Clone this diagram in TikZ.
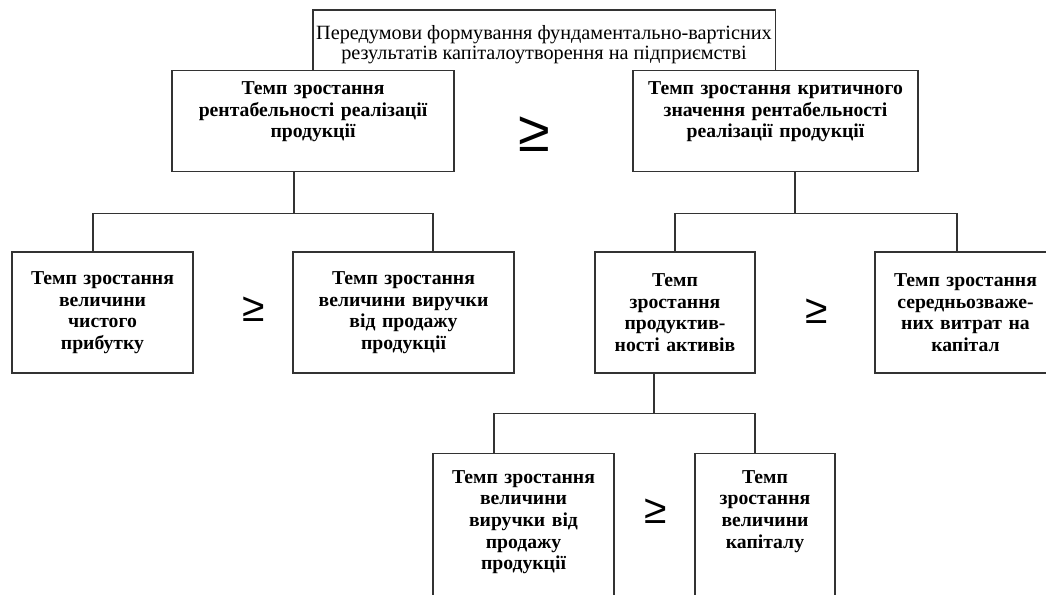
\documentclass[tikz,border=0pt]{standalone}
\usepackage{fontspec}
\setmainfont{Liberation Serif}
\setsansfont{Liberation Sans}
\usepackage{tikz}
\usetikzlibrary{shapes.geometric, arrows, arrows.meta, positioning, calc}
\tikzstyle{rate} = [rectangle,
inner sep=0pt,
text centered,
align=center,
font=\fontsize{14}{15.4}\selectfont\bfseries,
draw=black!80, line width=0.9pt, fill=white]
\tikzstyle{headrate} = [rate,
anchor=north,
inner ysep=0.275cm,
text depth=1.65cm]
\tikzstyle{openrate} = [rate,
anchor=north,
inner ysep=0.42cm,
text depth=4cm]
\tikzstyle{geq} = [inner sep=0pt, font=\sffamily\fontsize{29}{29}\selectfont]
\tikzstyle{link} = [draw=black!80, line width=0.9pt]

\begin{document}
\begin{tikzpicture}[x=0.025cm, y=-0.025cm]
                \useasboundingbox (0,0) rectangle (1046,594);
                \clip (0,0) rectangle (1046,594);

                \node (top) [anchor=north, inner ysep=0.37cm, align=center, font=\fontsize{14.4}{14.2}\selectfont] at (544,10) {Передумови формування фундаментально-вартісних\\результатів капіталоутворення на підприємстві};

                \node (rentab) [headrate, text width=7.05cm] at (313,70) {Темп зростання\\рентабельності реалізації\\продукції};
                \node (krit) [headrate, text width=7.125cm] at (775.5,70) {Темп зростання критичного\\значення рентабельності\\реалізації продукції};
                \node (geqtop) [geq, font=\sffamily\fontsize{41}{41}\selectfont] at (534.5,134.5) {≥};

                \node (prybut) [rate, text width=4.525cm, minimum height=3.025cm] at (102.5,312.5) {Темп зростання\\величини\\чистого\\прибутку};
                \node (vyruchka) [rate, text width=5.525cm, minimum height=3.025cm] at (403.5,312.5) {Темп зростання\\величини виручки\\від продажу\\продукції};
                \node (geqleft) [geq] at (254,309.5) {≥};

                \node (aktyvy) [rate, text width=4cm, minimum height=3.025cm] at (675,312.5) {Темп\\зростання\\продуктив-\\ності активів};
                \node (vytraty) [rate, text width=4.525cm, minimum height=3.025cm] at (965.5,312.5) {Темп зростання\\середньозваже-\\них витрат на\\капітал};
                \node (geqright) [geq] at (817,311) {≥};

                \node (vyruchkab) [openrate, text width=4.525cm] at (523.5,453) {Темп зростання\\величини\\виручки від\\продажу\\продукції};
                \node (kapital) [openrate, text width=3.5cm] at (765,453) {Темп\\зростання\\величини\\капіталу};
                \node (geqlow) [geq] at (656,511.5) {≥};

                % frame of the heading
                \draw [link] (rentab.north) |- (top.north) -| (krit.north);

                % forks
                \draw [link] ([xshift=-0.475cm]rentab.south) -- ++(0,41) coordinate (forkl);
                \draw [link] ([xshift=-0.2375cm]prybut.north) |- (forkl) -| ([xshift=0.7375cm]vyruchka.north);
                \draw [link] ([xshift=0.4875cm]krit.south) -- ++(0,41) coordinate (forkr);
                \draw [link] (aktyvy.north) |- (forkr) -| ([xshift=-0.2125cm]vytraty.north);
                \draw [link] ([xshift=-0.525cm]aktyvy.south) -- ++(0,40) coordinate (forkb);
                \draw [link] ([xshift=-0.7375cm]vyruchkab.north) |- (forkb) -| ([xshift=-0.25cm]kapital.north);
            \end{tikzpicture}
\end{document}
